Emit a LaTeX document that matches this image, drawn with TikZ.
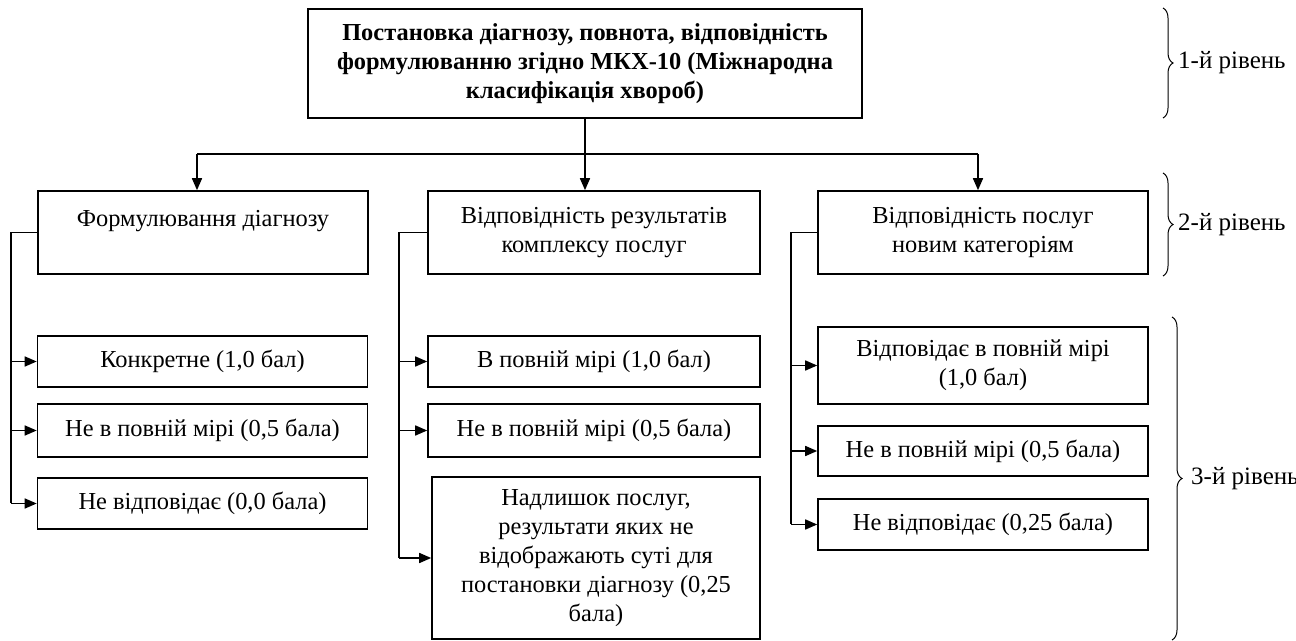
\documentclass[tikz,border=0pt]{standalone}
\usepackage{fontspec}
\setmainfont{Liberation Serif}
\usetikzlibrary{arrows.meta,decorations.pathreplacing}

\tikzset{
  box/.style={draw,line width=0.8pt,align=center,minimum width=165pt,inner sep=2pt,font=\fontsize{12.2}{14.5}\selectfont},
  arr/.style={-{Triangle[length=6pt,width=5pt]},line width=0.8pt},
  lvl/.style={decorate,decoration={brace,amplitude=5pt},line width=0.5pt}
}

\begin{document}
\begin{tikzpicture}[x=0.5pt,y=0.5pt]
\useasboundingbox (0,0) rectangle (1296,-641);
% 1-й рівень
\node[box,minimum width=277pt,minimum height=54.5pt,font=\bfseries\fontsize{12.2}{14.5}\selectfont] (top) at (585,-63.5) {Постановка діагнозу, повнота, відповідність\\формулюванню згідно МКХ-10 (Міжнародна\\класифікація хвороб)};
% 2-й рівень
\node[box,minimum height=41.5pt] (l2a) at (203,-232.5) {Формулювання діагнозу\\~};
\node[box,minimum width=166pt,minimum height=41.5pt] (l2b) at (594,-232.5) {Відповідність результатів\\комплексу послуг};
\node[box,minimum height=41.5pt] (l2c) at (983,-232.5) {Відповідність послуг\\новим категоріям};
% 3-й рівень
\node[box,minimum height=25.5pt] (a1) at (202.5,-361.5) {Конкретне (1,0 бал)};
\node[box,minimum height=26.5pt] (a2) at (202.5,-430.5) {Не в повній мірі (0,5 бала)};
\node[box,minimum height=25.5pt] (a3) at (202.5,-503.5) {Не відповідає (0,0 бала)};
\node[box,minimum width=166pt,minimum height=25.5pt] (b1) at (594,-361.5) {В повній мірі (1,0 бал)};
\node[box,minimum width=166pt,minimum height=26.5pt] (b2) at (594,-430.5) {Не в повній мірі (0,5 бала)};
\node[box,minimum width=164pt,minimum height=81pt] (b3) at (596,-558) {Надлишок послуг,\\результати яких не\\відображають суті для\\постановки діагнозу (0,25\\бала)};
\node[box,minimum height=38.5pt] (c1) at (983,-365.5) {Відповідає в повній мірі\\(1,0 бал)};
\node[box,minimum height=25pt] (c2) at (983,-451) {Не в повній мірі (0,5 бала)};
\node[box,minimum height=25.5pt] (c3) at (983,-524.5) {Не відповідає (0,25 бала)};
% connectors
\coordinate (jl) at (197,-154);
\coordinate (jr) at (978,-154);
\draw[line width=0.8pt] (jl) -- (jr);
\draw[arr] (top.south) -- (top.south |- l2b.north);
\draw[arr] (jl) -- (jl |- l2a.north);
\draw[arr] (jr) -- (jr |- l2c.north);
\draw[line width=0.8pt] (l2a.west) -- ++(-26,0) coordinate (ba) -- (ba |- a3.west);
\draw[line width=0.8pt] (l2b.west) -- ++(-28,0) coordinate (bb) -- (bb |- b3.west);
\draw[line width=0.8pt] (l2c.west) -- ++(-26,0) coordinate (bc) -- (bc |- c3.west);
\foreach \n in {a1,a2,a3} \draw[arr] (ba |- \n.west) -- (\n.west);
\foreach \n in {b1,b2,b3} \draw[arr] (bb |- \n.west) -- (\n.west);
\foreach \n in {c1,c2,c3} \draw[arr] (bc |- \n.west) -- (\n.west);
% braces
\draw[lvl] (1163,-8) -- (1163,-118) node[midway,right=4pt,font=\fontsize{12.5}{14.5}\selectfont] (lv1) {1-й рівень};
\draw[lvl] (1163,-173) -- (1163,-276) node[midway,right=4pt,font=\fontsize{12.5}{14.5}\selectfont] (lv2) {2-й рівень};
\draw[lvl] (1172,-317) -- (1172,-640) node[midway,right=6pt,font=\fontsize{12.5}{14.5}\selectfont] (lv3) {3-й рівень};
\end{tikzpicture}
\end{document}
